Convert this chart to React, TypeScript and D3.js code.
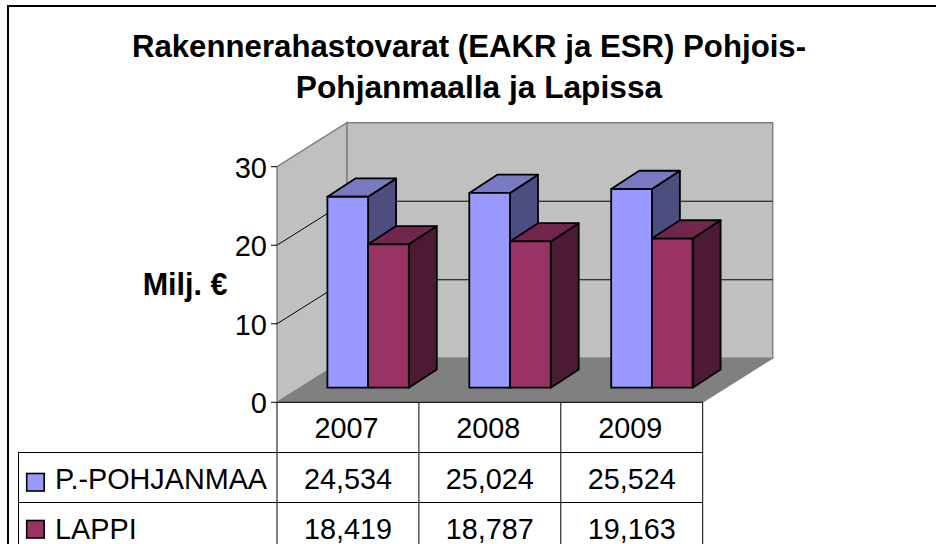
import React from "react";
import * as d3 from "d3";

const titleLines = ["Rakennerahastovarat (EAKR ja ESR) Pohjois-", "Pohjanmaalla ja Lapissa"];
const yTicks = [0, 10, 20, 30];
const years = ["2007", "2008", "2009"];
const seriesNames = ["P.-POHJANMAA", "LAPPI"];
const pohjanmaa = [24.534, 25.024, 25.524];
const lappi = [18.419, 18.787, 19.163];
const valueLabelsA = ["24,534", "25,024", "25,524"];
const valueLabelsB = ["18,419", "18,787", "19,163"];
const faceColors = [
  { front: "#9999ff", top: "#7a7ac2", side: "#4d4d80" },
  { front: "#993366", top: "#73264d", side: "#4d1a33" },
];

const font = "'Liberation Sans', Arial, sans-serif";

export default function App() {
  const x0 = 277, x1 = 702.7, yBase = 402.3, yTop = 166.7;
  const dx = 70, dy = 44;
  const y = d3.scaleLinear().domain([0, 30]).range([yBase, yTop]);
  const band = d3.scaleBand().domain(years).range([x0, x1]);
  const barBase = 387.7;
  const barY = d3.scaleLinear().domain([0, 30]).range([barBase, barBase - 233.5]);
  const barW = 40.7, barDx = 28, barDy = 18.3, barOff = 50.4;
  const all = [pohjanmaa, lappi];
  const line = d3.line();
  const poly = (p: [number, number][]) => line(p) + "Z";

  return (
    <svg width={936} height={544} style={{ position: "absolute", left: 0, top: 0, background: "#fff" }} fontFamily={font}>
      <rect x={8} y={6} width={1000} height={600} fill="#fff" stroke="#000" strokeWidth={2} />
      <text x={469} y={56.8} textAnchor="middle" fontSize={31.2} fontWeight="bold" fill="#000">{titleLines[0]}</text>
      <text x={479} y={98.3} textAnchor="middle" fontSize={31.7} fontWeight="bold" fill="#000">{titleLines[1]}</text>

      {/* walls */}
      <path d={poly([[x0, yBase], [x0, yTop], [x0 + dx, yTop - dy], [x0 + dx, yBase - dy]])} fill="#c0c0c0" stroke="#808080" strokeWidth={1.5} />
      <path d={poly([[x0 + dx, yBase - dy], [x0 + dx, yTop - dy], [x1 + dx, yTop - dy], [x1 + dx, yBase - dy]])} fill="#c0c0c0" stroke="#808080" strokeWidth={1.5} />
      <path d={poly([[x0, yBase], [x0 + dx, yBase - dy], [x1 + dx, yBase - dy], [x1, yBase]])} fill="#808080" stroke="#808080" />
      {yTicks.slice(1, 3).map((t) => (
        <path key={t} d={line([[x0, y(t)], [x0 + dx, y(t) - dy], [x1 + dx, y(t) - dy]])!} fill="none" stroke="#000" strokeWidth={1} />
      ))}

      {/* bars */}
      {years.map((yr, i) => {
        const bx = band(yr)! + barOff;
        return [0, 1].map((s) => {
          const left = bx + s * barW;
          const right = left + barW;
          const top = barY(all[s][i]);
          const c = faceColors[s];
          const st = { stroke: "#000", strokeWidth: 1.8, strokeLinejoin: "round" as const };
          return (
            <g key={yr + s}>
              <path d={poly([[right, barBase], [right, top], [right + barDx, top - barDy], [right + barDx, barBase - barDy]])} fill={c.side} {...st} />
              <path d={poly([[left, top], [right, top], [right + barDx, top - barDy], [left + barDx, top - barDy]])} fill={c.top} {...st} />
              <rect x={left} y={top} width={barW} height={barBase - top} fill={c.front} {...st} />
            </g>
          );
        });
      })}

      {/* y axis */}
      {yTicks.map((t) => (
        <g key={t}>
          <line x1={x0 - 6} x2={x0} y1={y(t)} y2={y(t)} stroke="#000" />
          <text x={x0 - 10} y={y(t) + 11} textAnchor="end" fontSize={29} fill="#000">{t}</text>
        </g>
      ))}
      <text x={185} y={295} textAnchor="middle" fontSize={30.5} fontWeight="bold" fill="#000">Milj. €</text>

      {/* data table */}
      <line x1={x0} x2={x1} y1={yBase} y2={yBase} stroke="#000" />
      {[452, 502].map((ry) => <line key={ry} x1={18} x2={x1} y1={ry + 0.5} y2={ry + 0.5} stroke="#000" />)}
      <line x1={18.5} x2={18.5} y1={452} y2={544} stroke="#000" />
      {[0, 1, 2, 3].map((k) => {
        const vx = x0 + (k * (x1 - x0)) / 3;
        return <line key={k} x1={vx} x2={vx} y1={yBase} y2={544} stroke="#000" />;
      })}
      {years.map((yr, i) => {
        const cx = band(yr)! + band.bandwidth() / 2;
        return (
          <g key={yr} fontSize={28.8} fill="#000" textAnchor="middle">
            <text x={cx - 1.5} y={438}>{yr}</text>
            <text x={cx} y={489}>{valueLabelsA[i]}</text>
            <text x={cx} y={538.5}>{valueLabelsB[i]}</text>
          </g>
        );
      })}
      {seriesNames.map((n, i) => (
        <g key={n}>
          <rect x={26.7} y={473.5 + i * 47} width={17.5} height={17.5} fill={faceColors[i].front} stroke="#000" strokeWidth={1.6} />
          <text x={55} y={489 + i * 49.5} fontSize={28.8} fill="#000" textLength={i === 0 ? 212 : undefined} lengthAdjust="spacingAndGlyphs">{n}</text>
        </g>
      ))}
    </svg>
  );
}
